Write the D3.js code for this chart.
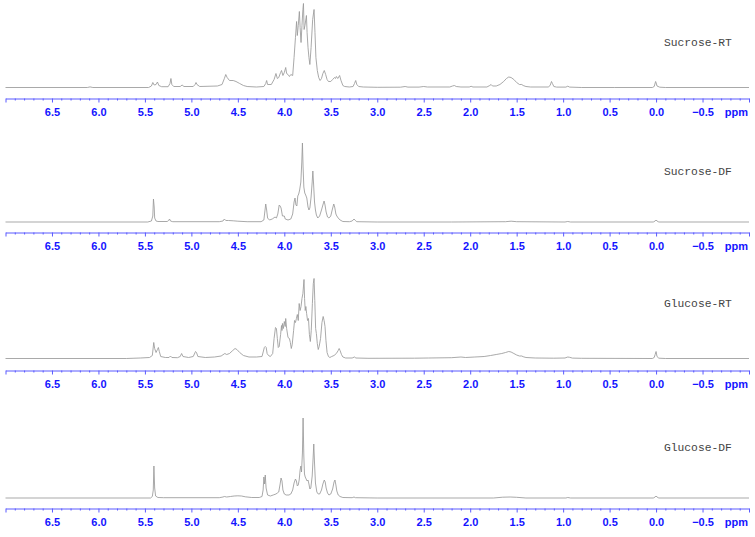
<!DOCTYPE html>
<html><head><meta charset="utf-8">
<script src="https://cdn.jsdelivr.net/npm/d3@7"></script>
<style>
html,body{margin:0;padding:0;background:#fff;}
svg{display:block;}
</style></head>
<body>
<svg id="chart" width="755" height="537"></svg>
<script>
// ---- data ----
const panelNames = ["Sucrose-RT", "Sucrose-DF", "Glucose-RT", "Glucose-DF"];

const majorTicks = [7.0, 6.5, 6.0, 5.5, 5.0, 4.5, 4.0, 3.5, 3.0, 2.5, 2.0, 1.5, 1.0, 0.5, 0.0, -0.5, -1.0];
const tickLabels = ["", "6.5", "6.0", "5.5", "5.0", "4.5", "4.0", "3.5", "3.0", "2.5", "2.0", "1.5", "1.0", "0.5", "0.0", "\u22120.5", ""];
const unitLabel = "ppm";

// spectra: [ppm, intensity]
const sucroseRT = [[7.0,0],[6.12,0],[6.09,0.6],[6.06,0],[5.46,0],[5.43,1.5],[5.415,5],[5.40,2.5],[5.38,3],[5.365,5.5],[5.35,2],[5.32,0.8],
[5.25,0.8],[5.23,4],[5.22,9],[5.21,3],[5.19,1],[5.12,1],[5.10,2.5],[5.08,1],
[4.98,1],[4.96,3],[4.95,5],[4.94,3],[4.91,1],
[4.72,1.5],[4.67,3],[4.645,9],[4.63,13],[4.615,10],[4.59,7],[4.55,7],[4.52,6],[4.48,4],[4.44,2],[4.40,1],[4.30,0.5],
[4.22,1],[4.20,4],[4.19,7],[4.18,3],[4.14,3],[4.11,8],[4.09,14],[4.075,9],[4.06,10],[4.04,15],[4.03,17],[4.015,12],[4.00,15],[3.985,20],[3.975,14],[3.96,13],[3.945,11],[3.93,13],[3.91,12],[3.895,30],[3.88,50],[3.868,66],[3.86,52],[3.85,62],[3.838,76],[3.83,60],[3.82,45],[3.81,62],[3.80,78],[3.794,84],[3.787,58],[3.778,62],[3.762,72],[3.755,55],[3.745,40],[3.735,30],[3.725,23],[3.712,40],[3.695,68],[3.68,78],[3.67,55],[3.66,30],[3.645,17],[3.63,10],[3.615,7],[3.60,9],[3.585,14],[3.57,17],[3.555,13],[3.54,8],[3.525,6],[3.50,6],[3.48,8],[3.46,10],[3.45,9],[3.44,11],[3.425,9],[3.405,12],[3.39,7],[3.37,2],[3.35,1],[3.30,0.5],[3.26,1],[3.245,4],[3.232,7],[3.22,3],[3.20,1],[3.15,0.5],[3.0,0.2],[2.75,0.3],[2.70,1],[2.67,0.4],[2.55,0.4],[2.50,1],[2.46,0.5],[2.22,0.5],[2.19,1.5],[2.17,2],[2.15,1],[2.10,0.5],[2.01,0.5],[1.99,1.2],[1.97,0.5],[1.82,0.5],[1.79,2],[1.775,3],[1.76,1.5],[1.72,1.5],[1.68,3],[1.64,6],[1.61,9],[1.585,10.5],[1.56,10],[1.53,8],[1.50,5],[1.47,3],[1.445,3],[1.43,2],[1.40,1],[1.35,0.5],[1.16,0.5],[1.14,2],[1.125,6],[1.115,4],[1.10,1],[1.07,0.4],[0.97,0.4],[0.95,1.3],[0.93,0.4],[0.80,0],[0.45,0],[0.04,0],[0.02,1],[0.005,6],[0.0,5],[-0.01,1.5],[-0.04,0.3],[-0.1,0],[-1.0,0]];

const sucroseDF = [[7.0,0],[5.47,0],[5.43,1],[5.415,6],[5.408,23],[5.40,15],[5.395,4],[5.38,1],[5.36,0.5],[5.26,0.5],[5.245,1.5],[5.235,3],[5.225,1],[5.20,0.3],
[4.70,0.3],[4.66,1],[4.645,3],[4.63,1.5],[4.60,1.5],[4.55,1.2],[4.50,0.8],[4.40,0.3],
[4.25,0.3],[4.22,2],[4.21,10],[4.20,18],[4.19,12],[4.18,4],[4.16,2],[4.13,3],[4.10,5],[4.085,4],[4.07,8],[4.055,17],[4.045,16],[4.035,14],[4.02,6],[4.00,6],[3.99,3],[3.96,2],[3.93,3],[3.91,8],[3.895,20],[3.885,24],[3.875,17],[3.865,16],[3.855,26],[3.845,28],[3.835,32],[3.822,40],[3.812,60],[3.805,79],[3.798,55],[3.79,35],[3.78,29],[3.77,27],[3.758,24],[3.745,15],[3.735,12],[3.725,14],[3.712,25],[3.70,40],[3.693,51],[3.685,38],[3.675,20],[3.665,12],[3.655,7],[3.64,4],[3.62,6],[3.60,12],[3.582,18],[3.572,21],[3.562,17],[3.55,10],[3.535,5],[3.52,4],[3.50,6],[3.485,12],[3.468,18],[3.458,15],[3.445,8],[3.435,6],[3.42,4],[3.40,2],[3.37,0.5],[3.30,0.3],[3.27,1],[3.25,3],[3.235,1.5],[3.22,0.3],[3.0,0],[2.2,0],[1.62,0.3],[1.56,0.8],[1.50,0.3],[0.98,0],[0.95,0.5],[0.92,0],[0.03,0],[0.01,1],[0.0,2],[-0.01,1],[-0.03,0],[-1.0,0]];

const glucoseRT = [[7.0,0],[5.70,0],[5.55,0.5],[5.45,1],[5.42,3],[5.405,16],[5.395,10],[5.38,6],[5.365,9],[5.355,11],[5.345,7],[5.33,2],[5.28,1],[5.24,1],[5.225,2.5],[5.21,1],[5.15,0.8],[5.12,2],[5.105,5],[5.09,2],[5.03,1],[4.98,2],[4.955,7],[4.945,6],[4.93,2],[4.85,1],[4.75,1.5],[4.68,2.5],[4.64,5],[4.62,4],[4.59,5],[4.555,8],[4.53,10],[4.51,9],[4.48,6],[4.44,3],[4.38,1.5],[4.30,1.5],[4.24,2],[4.215,11],[4.205,12],[4.195,11],[4.185,5],[4.17,3],[4.15,2],[4.125,5],[4.11,20],[4.095,31],[4.085,30],[4.075,20],[4.065,11],[4.055,12],[4.04,24],[4.03,33],[4.025,28],[4.02,35],[4.01,30],[4.00,37],[3.99,32],[3.985,40],[3.975,30],[3.96,21],[3.945,20],[3.935,16],[3.925,10],[3.915,14],[3.90,28],[3.89,38],[3.88,36],[3.87,40],[3.86,44],[3.85,38],[3.84,55],[3.83,48],[3.82,52],[3.81,60],[3.80,65],[3.788,79],[3.782,60],[3.775,48],[3.768,52],[3.76,45],[3.75,38],[3.74,40],[3.73,24],[3.72,17],[3.71,28],[3.698,55],[3.688,75],[3.68,80],[3.672,58],[3.663,30],[3.655,25],[3.645,15],[3.635,9],[3.625,12],[3.61,20],[3.595,36],[3.582,42],[3.572,38],[3.562,32],[3.552,18],[3.54,6],[3.525,2],[3.51,1],[3.49,2],[3.465,3],[3.44,5],[3.42,8],[3.41,10],[3.40,8],[3.385,4],[3.37,1.5],[3.34,0.5],[3.27,0.5],[3.245,1.5],[3.23,0.5],[3.10,0.2],[2.60,0.3],[2.45,0.5],[2.20,0.8],[2.10,1.5],[2.05,1],[1.95,1.5],[1.85,2],[1.78,3],[1.72,4],[1.66,5],[1.62,6],[1.585,7],[1.56,6.5],[1.53,5],[1.50,3.5],[1.47,2.5],[1.445,2.5],[1.43,1.8],[1.40,1],[1.30,0.5],[1.10,0.3],[0.98,0.5],[0.95,1.5],[0.93,1.2],[0.90,0.4],[0.80,0.2],[0.04,0],[0.02,1],[0.01,4],[0.0,7],[-0.01,2],[-0.03,0.3],[-0.1,0],[-1.0,0]];

const glucoseDF = [[7.0,0],[5.44,0],[5.42,1.5],[5.41,8],[5.403,32],[5.395,10],[5.385,2],[5.36,0.5],[5.30,0.3],[4.70,0.3],[4.66,1],[4.645,1.5],[4.62,1],[4.58,1.5],[4.54,2],[4.50,2.2],[4.46,2],[4.42,1.2],[4.35,0.5],[4.27,0.5],[4.24,1.5],[4.228,8],[4.22,21],[4.212,14],[4.205,23],[4.196,10],[4.18,3],[4.15,2],[4.12,3],[4.09,4],[4.075,5],[4.06,6],[4.045,14],[4.035,20],[4.025,17],[4.015,8],[4.00,4],[3.98,3],[3.95,3],[3.93,4],[3.91,8],[3.895,15],[3.88,19],[3.87,17],[3.86,12],[3.85,13],[3.84,18],[3.83,28],[3.822,32],[3.815,26],[3.805,45],[3.798,80],[3.79,42],[3.783,24],[3.775,21],[3.765,19],[3.755,17],[3.745,18],[3.735,14],[3.725,9],[3.715,10],[3.70,22],[3.69,40],[3.683,54],[3.675,35],[3.665,15],[3.65,6],[3.635,4],[3.62,4],[3.60,8],[3.585,14],[3.57,18],[3.56,16],[3.55,10],[3.535,5],[3.52,3],[3.50,4],[3.48,9],[3.465,16],[3.455,18],[3.445,13],[3.435,7],[3.42,3],[3.40,1.5],[3.37,0.5],[3.27,0.3],[3.25,1],[3.235,0.3],[3.0,0],[1.75,0],[1.65,0.8],[1.57,1],[1.50,0.7],[1.40,0],[0.97,0],[0.95,0.5],[0.92,0],[0.03,0],[0.01,1],[0.0,2],[-0.01,1],[-0.03,0],[-1.0,0]];

const spectra = [sucroseRT, sucroseDF, glucoseRT, glucoseDF];

// ---- layout ----
const axisY = [98.5, 232.5, 370.5, 508.5];
const baseY = [87.5, 222, 358.5, 498];
const labelY = [45.5, 174.5, 306.5, 450.5];
const X0 = 5.5, X1 = 749;

const svg = d3.select("#chart");
const x = d3.scaleLinear().domain([7.0, -1.0]).range([X0, X1]);
const minorTicks = d3.range(70, -11, -1).map(v => v / 10).filter(v => Math.abs(Math.round(v * 2) - v * 2) > 1e-6);

const axisColor = "#5a5aff";
const labelColor = "#1414ff";

spectra.forEach((data, i) => {
  const g = svg.append("g");
  const y = d3.scaleLinear().domain([0, 100]).range([baseY[i], baseY[i] - 100]);
  const line = d3.line().x(d => x(d[0])).y(d => y(d[1])).curve(d3.curveLinear);
  g.append("path").datum(data)
    .attr("d", line)
    .attr("fill", "none")
    .attr("stroke", "#999999")
    .attr("stroke-width", 0.85)
    .attr("stroke-linejoin", "round");

  g.append("text")
    .attr("x", 664).attr("y", labelY[i])
    .attr("font-family", "'Liberation Mono','DejaVu Sans Mono',monospace")
    .attr("font-size", 11.3)
    .attr("fill", "#444444")
    .text(panelNames[i]);

  // minor ticks
  const minorAxis = d3.axisBottom(x).tickValues(minorTicks).tickSize(2).tickSizeOuter(0).tickFormat("");
  const ga = g.append("g").attr("transform", `translate(0,${axisY[i]})`).call(minorAxis);
  ga.select(".domain").attr("stroke", axisColor).attr("stroke-width", 1);
  ga.selectAll(".tick line").attr("stroke", axisColor).attr("stroke-width", 1);

  const majorAxis = d3.axisBottom(x).tickValues(majorTicks).tickSize(4).tickSizeOuter(0).tickPadding(5.2)
    .tickFormat((d, k) => tickLabels[k]);
  const gm = g.append("g").attr("transform", `translate(0,${axisY[i]})`).call(majorAxis);
  gm.select(".domain").remove();
  gm.selectAll(".tick line").attr("stroke", axisColor).attr("stroke-width", 1);
  gm.selectAll(".tick text")
    .attr("font-family", "'Liberation Sans',Arial,sans-serif")
    .attr("font-weight", "bold")
    .attr("font-size", 11)
    .attr("fill", labelColor);

  g.append("text")
    .attr("x", 748).attr("y", axisY[i] + 17)
    .attr("text-anchor", "end")
    .attr("font-family", "'Liberation Sans',Arial,sans-serif")
    .attr("font-weight", "bold")
    .attr("font-size", 11)
    .attr("fill", labelColor)
    .text(unitLabel);
});
</script>
</body></html>
